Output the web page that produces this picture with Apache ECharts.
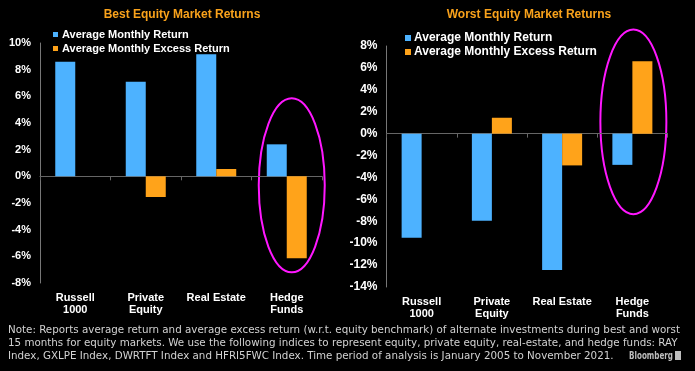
<!DOCTYPE html>
<html><head><meta charset="utf-8">
<script src="https://cdn.jsdelivr.net/npm/echarts@6/dist/echarts.min.js"></script>
<style>html,body{margin:0;padding:0;background:#000;}#c{width:695px;height:371px;}</style>
</head><body><div id="c"></div>
<script>
const categories = ['Russell\n1000', 'Private\nEquity', 'Real Estate', 'Hedge\nFunds'];
const seriesNames = ['Average Monthly Return', 'Average Monthly Excess Return'];
const bestReturn = [8.6, 7.1, 9.15, 2.4];
const bestExcess = [0, -1.55, 0.55, -6.15];
const worstReturn = [-9.5, -7.95, -12.45, -2.85];
const worstExcess = [0, 1.45, -2.9, 6.6];
const titles = ['Best Equity Market Returns', 'Worst Equity Market Returns'];
const bestAxis = {min: -8, max: 10, interval: 2};
const worstAxis = {min: -14, max: 8, interval: 2};
const highlightCategory = 'Hedge\nFunds';
const bestHighlight = [-7.2, 5.85];
const worstHighlight = [-7.35, 9.5];
const noteLines = [
  'Note: Reports average return and average excess return (w.r.t. equity benchmark) of alternate investments during best and worst',
  '15 months for equity markets. We use the following indices to represent equity, private equity, real-estate, and hedge funds: RAY',
  'Index, GXLPE Index, DWRTFT Index and HFRI5FWC Index. Time period of analysis is January 2005 to November 2021.'
];
const sourceText = 'Bloomberg';

const BLUE = '#4db2ff', ORANGE = '#ffa31a', TITLE = '#f9a21b';
const FONT = '"Liberation Sans", Arial, sans-serif';
const NOTE_FONT = '11px "DejaVu Sans", sans-serif';
const SRC_FONT = 'bold 11px "DejaVu Sans", sans-serif';

function measure(font, text) {
  const ctx = document.createElement('canvas').getContext('2d');
  ctx.font = font;
  return ctx.measureText(text).width;
}

function yAxisCfg(grid, ax, fs) {
  return {type: 'value', gridIndex: grid, min: ax.min, max: ax.max, interval: ax.interval,
    axisLine: {show: true, lineStyle: {color: '#777', width: 1}}, axisTick: {show: false},
    splitLine: {show: false},
    axisLabel: {formatter: '{value}%', color: '#fff', fontWeight: 'bold', fontSize: fs, fontFamily: FONT, margin: 9}};
}
function xLabelAxis(grid) {
  return {type: 'category', gridIndex: grid, data: categories, position: 'bottom',
    axisLine: {show: false, onZero: false}, axisTick: {show: false},
    axisLabel: {color: '#fff', fontWeight: 'bold', fontSize: 11, fontFamily: FONT, lineHeight: 12, margin: 9, interval: 0}};
}
function xZeroAxis(grid) {
  return {type: 'category', gridIndex: grid, data: categories, position: 'bottom',
    axisLine: {show: true, onZero: true, lineStyle: {color: '#666', width: 1}},
    axisTick: {show: true, interval: 0, length: 4, lineStyle: {color: '#666'}},
    axisLabel: {show: false, interval: 0}};
}
function bar(name, data, color, xi, yi) {
  return {type: 'bar', name: name, data: data, xAxisIndex: xi, yAxisIndex: yi,
    barWidth: 20, barGap: '0%', itemStyle: {color: color}};
}

const chart = echarts.init(document.getElementById('c'), null, {renderer: 'canvas'});
const option = {
  backgroundColor: '#000',
  animation: false,
  title: [
    {text: titles[0], left: 177, top: 4, textAlign: 'center', textStyle: {color: TITLE, fontSize: 12, fontWeight: 'bold', fontFamily: FONT}},
    {text: titles[1], left: 524, top: 4, textAlign: 'center', textStyle: {color: TITLE, fontSize: 12, fontWeight: 'bold', fontFamily: FONT}}
  ],
  legend: [
    {data: seriesNames, orient: 'vertical', left: 48, top: 24, itemWidth: 5, itemHeight: 5, itemGap: 3, icon: 'rect',
      textStyle: {color: '#fff', fontWeight: 'bold', fontSize: 11, fontFamily: FONT, padding: [0, 0, 0, -1]}},
    {data: seriesNames.map(n => n), orient: 'vertical', left: 400, top: 27, itemWidth: 6, itemHeight: 6, itemGap: 2, icon: 'rect',
      textStyle: {color: '#fff', fontWeight: 'bold', fontSize: 12, fontFamily: FONT, padding: [0, 0, 0, -2]}}
  ],
  grid: [
    {left: 40, right: 373, top: 43, bottom: 88, containLabel: false},
    {left: 386.5, right: 27.5, top: 46, bottom: 84, containLabel: false}
  ],
  xAxis: [xLabelAxis(0), xZeroAxis(0), xLabelAxis(1), xZeroAxis(1)],
  yAxis: [yAxisCfg(0, bestAxis, 11), yAxisCfg(1, worstAxis, 12)],
  series: [
    bar(seriesNames[0], bestReturn, BLUE, 0, 0),
    bar(seriesNames[1], bestExcess, ORANGE, 0, 0),
    bar(seriesNames[0], worstReturn, BLUE, 2, 1),
    bar(seriesNames[1], worstExcess, ORANGE, 2, 1)
  ]
};
chart.setOption(option);

function ellipseFor(xi, yi, range, dx) {
  const top = chart.convertToPixel({xAxisIndex: xi, yAxisIndex: yi}, [highlightCategory, range[1]]);
  const bot = chart.convertToPixel({xAxisIndex: xi, yAxisIndex: yi}, [highlightCategory, range[0]]);
  return {type: 'ellipse', silent: true,
    shape: {cx: top[0] + dx, cy: (top[1] + bot[1]) / 2, rx: 33, ry: (bot[1] - top[1]) / 2},
    style: {fill: null, stroke: '#ff17ff', lineWidth: 2}};
}
const noteScale = 672 / measure(NOTE_FONT, noteLines[0]);
const srcScale = 44 / measure(SRC_FONT, sourceText);
chart.setOption({
  graphic: [
    ellipseFor(0, 0, bestHighlight, 5),
    ellipseFor(2, 1, worstHighlight, 1),
    {type: 'text', x: 8, y: 323.5, scaleX: noteScale, silent: true,
      style: {text: noteLines.join('\n'), fill: '#d2d2d2', font: NOTE_FONT, lineHeight: 13}},
    {type: 'text', x: 629, y: 350, scaleX: srcScale, silent: true,
      style: {text: sourceText, fill: '#bdbdbd', font: SRC_FONT, lineHeight: 13}},
    {type: 'rect', left: 675, top: 351, shape: {width: 6, height: 9}, style: {fill: '#bdbdbd'}}
  ]
});
</script>
</body></html>
